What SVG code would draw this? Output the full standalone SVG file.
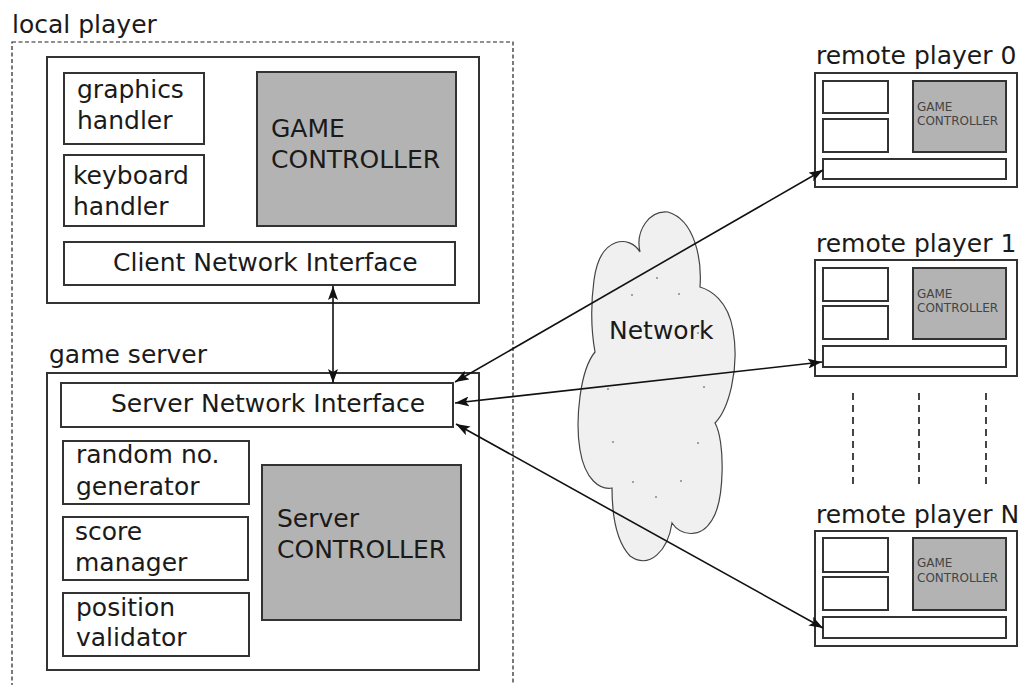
<svg xmlns="http://www.w3.org/2000/svg" width="1022" height="685" viewBox="0 0 1022 685">
<style>
text{font-family:"DejaVu Sans","Noto Sans",sans-serif;fill:#1a1a1a;font-size:25px}
.box{fill:#fff;stroke:#333;stroke-width:2}
.gc{fill:#b3b3b3;stroke:#333;stroke-width:2}
.sm{font-size:12px;fill:#444}
.conn{stroke:#111;stroke-width:1.6;fill:none;marker-start:url(#ah);marker-end:url(#ah)}
.dash{stroke:#444;stroke-width:2;stroke-dasharray:7,5;fill:none}
</style>
<defs>
<marker id="ah" viewBox="0 0 14 10" refX="14" refY="5" markerWidth="14" markerHeight="10" markerUnits="userSpaceOnUse" orient="auto-start-reverse">
<path d="M0,0 L14,5 L0,10 L3,5 z" fill="#111"/>
</marker>
</defs>
<rect width="1022" height="685" fill="#fff"/>

<g id="local-player">
<rect x="12" y="42" width="501" height="660" fill="none" stroke="#222" stroke-width="1.2" stroke-dasharray="4,2.5"/>
<text x="12" y="33">local player</text>
</g>

<g id="client">
<rect class="box" x="47" y="57" width="432" height="246"/>
</g>
<g id="graphics-handler">
<rect class="box" x="64" y="73" width="140" height="71"/>
<text x="77" y="98">graphics</text><text x="77" y="129">handler</text>
</g>
<g id="keyboard-handler">
<rect class="box" x="64" y="155" width="140" height="71"/>
<text x="73" y="184">keyboard</text><text x="73" y="215">handler</text>
</g>
<g id="game-controller">
<rect class="gc" x="257" y="72" width="199" height="154"/>
<text x="271" y="137">GAME</text><text x="271" y="168">CONTROLLER</text>
</g>
<g id="client-network-interface">
<rect class="box" x="64" y="242" width="391" height="43"/>
<text x="113" y="271">Client Network Interface</text>
</g>

<g id="game-server">
<text x="49" y="363">game server</text>
<rect class="box" x="47" y="373" width="432" height="297"/>
</g>
<g id="server-network-interface">
<rect class="box" x="61" y="383" width="392" height="44"/>
<text x="111" y="412">Server Network Interface</text>
</g>
<g id="random-generator">
<rect class="box" x="63" y="441" width="186" height="63"/>
<text x="76" y="463">random no.</text><text x="76" y="495">generator</text>
</g>
<g id="score-manager">
<rect class="box" x="63" y="517" width="185" height="63"/>
<text x="75" y="540">score</text><text x="75" y="571">manager</text>
</g>
<g id="position-validator">
<rect class="box" x="63" y="593" width="186" height="63"/>
<text x="76" y="616">position</text><text x="76" y="646">validator</text>
</g>
<g id="server-controller">
<rect class="gc" x="262" y="465" width="199" height="155"/>
<text x="277" y="527">Server</text><text x="277" y="558">CONTROLLER</text>
</g>

<g id="network">
<path d="M640,252 C630,235 600,235 594,280 C590,310 592,335 595,352 C580,370 575,420 580,450 C585,480 600,490 612,488 C612,510 615,540 630,556 C650,570 668,550 672,523 C680,535 700,540 712,520 C725,500 725,440 715,423 C728,410 740,370 733,330 C728,300 710,290 700,287 C702,260 695,220 668,212 C650,210 635,230 640,252 Z" fill="#f0f0f0" stroke="#444" stroke-width="1.2"/>
<g fill="#888">
<circle cx="657" cy="278" r="1"/><circle cx="632" cy="295" r="1"/><circle cx="679" cy="294" r="1"/><circle cx="698" cy="333" r="1"/><circle cx="608" cy="389" r="1"/><circle cx="704" cy="387" r="1"/><circle cx="613" cy="442" r="1"/><circle cx="698" cy="443" r="1"/><circle cx="633" cy="482" r="1"/><circle cx="681" cy="481" r="1"/><circle cx="656" cy="497" r="1"/>
</g>
<text x="609" y="339">Network</text>
</g>

<g id="remote-player-0">
<text x="816" y="64">remote player 0</text>
<rect class="box" x="815" y="73" width="202" height="114"/>
<rect class="box" x="823" y="81" width="65" height="32"/>
<rect class="box" x="823" y="119" width="65" height="33"/>
<rect class="gc" x="913" y="81" width="93" height="71"/>
<text class="sm" x="917" y="111">GAME</text><text class="sm" x="917" y="125">CONTROLLER</text>
<rect class="box" x="823" y="159" width="183" height="20"/>
</g>
<g id="remote-player-1">
<text x="816" y="252">remote player 1</text>
<rect class="box" x="815" y="260" width="202" height="116"/>
<rect class="box" x="823" y="268" width="65" height="33"/>
<rect class="box" x="823" y="306" width="65" height="33"/>
<rect class="gc" x="913" y="268" width="93" height="71"/>
<text class="sm" x="917" y="298">GAME</text><text class="sm" x="917" y="312">CONTROLLER</text>
<rect class="box" x="823" y="346" width="183" height="21"/>
</g>
<g id="ellipsis">
<line class="dash" x1="853" y1="393" x2="853" y2="486"/>
<line class="dash" x1="919" y1="393" x2="919" y2="486"/>
<line class="dash" x1="986" y1="393" x2="986" y2="486"/>
</g>
<g id="remote-player-N">
<text x="816" y="523">remote player N</text>
<rect class="box" x="815" y="531" width="202" height="115"/>
<rect class="box" x="823" y="538" width="65" height="34"/>
<rect class="box" x="823" y="577" width="65" height="33"/>
<rect class="gc" x="913" y="538" width="93" height="72"/>
<text class="sm" x="917" y="567">GAME</text><text class="sm" x="917" y="582">CONTROLLER</text>
<rect class="box" x="823" y="617" width="183" height="21"/>
</g>

<g id="connectors">
<line class="conn" x1="333" y1="286" x2="333" y2="383"/>
<line class="conn" x1="455" y1="382" x2="823" y2="170"/>
<line class="conn" x1="455" y1="403" x2="822" y2="362"/>
<line class="conn" x1="456" y1="424" x2="823" y2="628"/>
</g>
</svg>
